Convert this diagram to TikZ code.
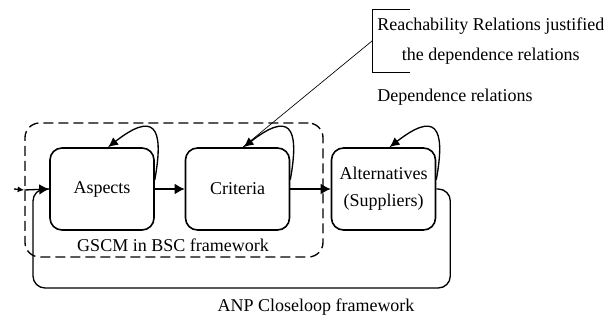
\documentclass[tikz,border=0pt]{standalone}
\usepackage{fontspec}
\setmainfont{Liberation Serif}
\usetikzlibrary{arrows.meta}
\begin{document}
\begin{tikzpicture}[x=.75pt,y=.75pt,font=\fontsize{13.5pt}{20pt}\selectfont,
    block/.style={draw, line width=1.2pt, rounded corners=9pt, minimum width=78pt, minimum height=61.5pt, align=center, inner sep=0pt},
    frame/.style={draw, line width=1pt, dash pattern=on 7.5pt off 3.75pt, rounded corners=11pt, minimum width=223.5pt, minimum height=100.5pt},
    flow/.style={line width=1pt, -{Latex[length=7.5pt,width=8pt]}},
    selfloop/.style={line width=1pt, -{Latex[length=7.5pt,width=7pt]}},
    loopback/.style={line width=1pt, rounded corners=9pt}]
  \useasboundingbox (0,0) rectangle (613,325);

  \node[frame] (gscm) at (174,135) {};
  \node[block] (asp) at (102,136) {Aspects};
  \node[block] (crit) at (237.5,136) {Criteria};
  \node[block] (alt) at (383.5,136) {Alternatives\\(Suppliers)};

  \node (gscmlabel) at (173,80) {GSCM in BSC framework};
  \node (anp) at (316,18) {ANP Closeloop framework};
  \node (dep) at (455,228) {Dependence relations};
  \node[anchor=west, align=center, inner sep=3.75pt, minimum height=46.5pt,
        font=\fontsize{13.5pt}{22.5pt}\selectfont] (note) at (372,284)
        {Reachability Relations justified\\the dependence relations};

  % note bracket and its pointer
  \draw[line width=.6pt] ([xshift=28.5pt]note.north west) -- (note.north west)
    -- (note.south west) -- ([xshift=28.5pt]note.south west);
  \draw[line width=.5pt] (note.west) -- ([xshift=4pt]crit.north);

  % main flow
  \coordinate (src) at (14,136);
  \draw[line width=1pt, -{Latex[length=5pt,width=4.5pt]}] (src) -- (gscm.west);
  \draw[flow] (gscm.west) -- (asp.west);
  \draw[flow] (asp) -- (crit);
  \draw[flow] (crit) -- (alt);
  \draw[loopback] (alt.east) -- ++(14,0) |- (33,37) |- (asp.west);

  % self dependence
  \foreach \n in {asp,crit,alt}
    \draw[selfloop] (\n.10) .. controls +(10,55) and +(45,35) .. ([xshift=4.5pt]\n.north);
\end{tikzpicture}
\end{document}
